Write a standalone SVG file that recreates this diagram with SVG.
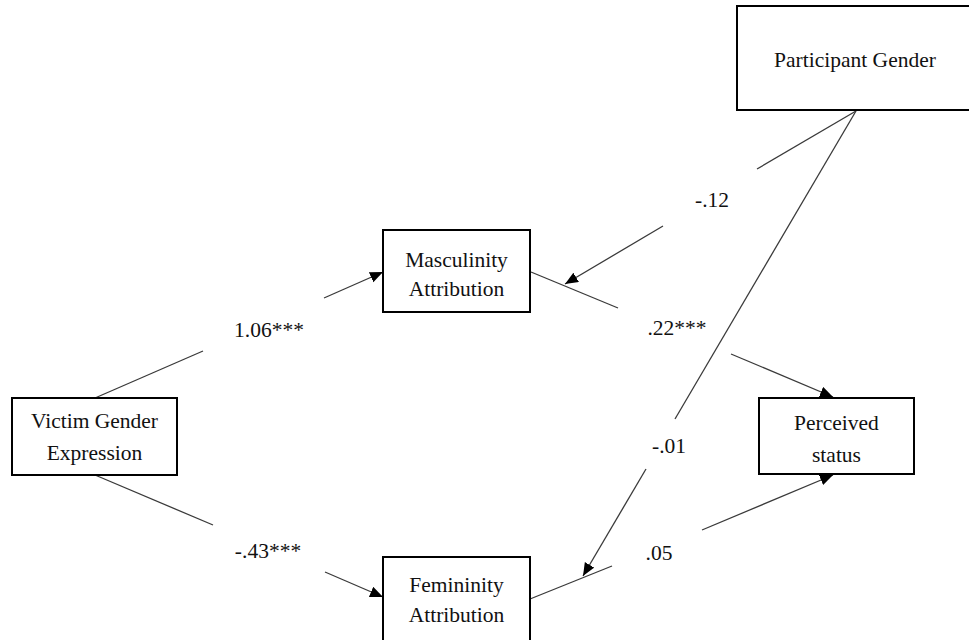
<svg xmlns="http://www.w3.org/2000/svg" width="969" height="640" viewBox="0 0 969 640">
  <style>
    .box { fill: #ffffff; stroke: #000000; stroke-width: 2; }
    .lbl { font-family: "Liberation Serif", "DejaVu Serif", serif; font-size: 21.5px; fill: #111111; text-anchor: middle; }
    .path { stroke: #3a3a3a; stroke-width: 1.3; fill: none; }
    .arrow { marker-end: url(#head); }
  </style>
  <defs>
    <marker id="head" markerUnits="userSpaceOnUse" markerWidth="14" markerHeight="12" refX="13" refY="5.5" orient="auto" viewBox="0 0 14 12">
      <path d="M0,0 L13,5.5 L0,11 z" fill="#000000"/>
    </marker>
  </defs>

  <rect width="969" height="640" fill="#ffffff"/>

  <!-- paths between variables, each broken around its coefficient -->
  <g id="connectors">
    <!-- Victim Gender Expression -> Masculinity Attribution -->
    <line class="path" x1="95" y1="398" x2="203" y2="351"/>
    <line class="path arrow" x1="324" y1="298" x2="383" y2="272"/>
    <!-- Victim Gender Expression -> Femininity Attribution -->
    <line class="path" x1="95" y1="475" x2="213" y2="525"/>
    <line class="path arrow" x1="325" y1="572" x2="383" y2="597"/>
    <!-- Masculinity Attribution -> Perceived status -->
    <line class="path" x1="531" y1="272" x2="618" y2="308"/>
    <line class="path arrow" x1="731" y1="354" x2="833" y2="397"/>
    <!-- Femininity Attribution -> Perceived status -->
    <line class="path" x1="530" y1="599" x2="612" y2="566"/>
    <line class="path arrow" x1="702" y1="530" x2="833" y2="475"/>
    <!-- Participant Gender moderating the masculinity path -->
    <line class="path" x1="856" y1="111" x2="757" y2="169"/>
    <line class="path arrow" x1="663" y1="226" x2="565" y2="284"/>
    <!-- Participant Gender moderating the femininity path -->
    <line class="path" x1="856" y1="111" x2="675" y2="419"/>
    <line class="path arrow" x1="646" y1="469" x2="583" y2="576"/>
  </g>

  <!-- coefficients -->
  <g id="coefficients">
    <text class="lbl" x="269" y="337">1.06***</text>
    <text class="lbl" x="268" y="558">-.43***</text>
    <text class="lbl" x="712" y="207">-.12</text>
    <text class="lbl" x="677" y="335">.22***</text>
    <text class="lbl" x="669" y="453">-.01</text>
    <text class="lbl" x="659" y="560">.05</text>
  </g>

  <g id="participant-gender">
    <rect class="box" x="737" y="6" width="245" height="104"/>
    <text class="lbl" x="855" y="67">Participant Gender</text>
  </g>

  <g id="masculinity-attribution">
    <rect class="box" x="383" y="230" width="147" height="82"/>
    <text class="lbl" x="456.5" y="267">Masculinity</text>
    <text class="lbl" x="456.5" y="296">Attribution</text>
  </g>

  <g id="victim-gender-expression">
    <rect class="box" x="12" y="398" width="165" height="77"/>
    <text class="lbl" x="94.5" y="428">Victim Gender</text>
    <text class="lbl" x="94.5" y="460">Expression</text>
  </g>

  <g id="perceived-status">
    <rect class="box" x="759" y="398" width="155" height="76"/>
    <text class="lbl" x="836.5" y="430">Perceived</text>
    <text class="lbl" x="836.5" y="462">status</text>
  </g>

  <g id="femininity-attribution">
    <rect class="box" x="383" y="557" width="147" height="100"/>
    <text class="lbl" x="456.5" y="592">Femininity</text>
    <text class="lbl" x="456.5" y="622">Attribution</text>
  </g>
</svg>
